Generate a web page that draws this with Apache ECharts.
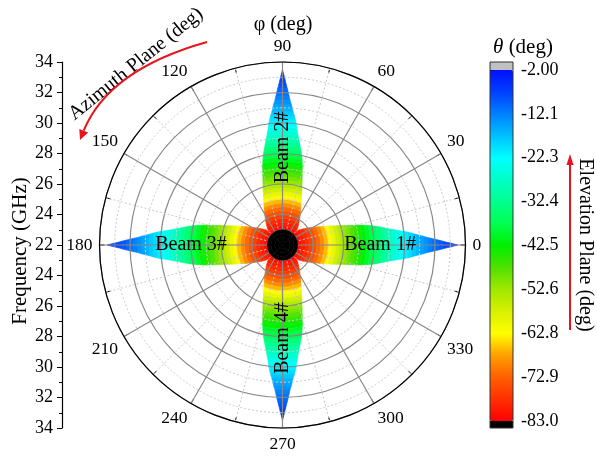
<!doctype html>
<html>
<head>
<meta charset="utf-8">
<title>Beam scan map</title>
<script src="https://cdn.jsdelivr.net/npm/echarts@6/dist/echarts.min.js"></script>
<style>
    html, body { margin: 0; padding: 0; background: #fff; }
    #chart { width: 597px; height: 457px; }
</style>
</head>
<body>
<div id="chart"></div>
<script>
// beam directions (phi, deg) and their names
var beamAngles = [0, 90, 180, 270];
var beamNames = ['Beam 1#', 'Beam 2#', 'Beam 3#', 'Beam 4#'];
var beamLabelFreq = [28.4, 28.4, 28.0, 28.1];

// ring edges along each beam (GHz) and beam half-width at each edge (deg of phi)
var freqEdges = [22, 22.25, 22.5, 22.75, 23, 23.25, 23.5, 23.75, 24, 24.25, 24.5, 24.75,
    25, 25.25, 25.5, 25.75, 26, 26.25, 26.5, 26.75, 27, 27.25, 27.5, 27.75,
    28, 28.25, 28.5, 28.75, 29, 29.25, 29.5, 29.75, 30, 30.25, 30.5, 30.75,
    31, 31.25, 31.5, 31.75, 32, 32.25, 32.5, 32.75, 33, 33.25, 33.5];
var halfWidthDeg = [45, 45, 45, 45, 45, 45, 41.8, 37.5, 33.9, 30.9, 28.3, 26.1,
    24.1, 22.5, 21.0, 19.7, 18.6, 17.6, 16.6, 15.8, 15.0, 14.4, 13.6, 12.9,
    12.2, 11.3, 10.4, 9.6, 8.8, 8.1, 7.5, 6.9, 6.5, 5.9, 5.3, 4.6,
    4.1, 3.6, 3.0, 2.6, 2.2, 1.8, 1.4, 1.0, 0.7, 0.33, 0];
// elevation theta (deg) in each ring between two edges
var thetaRing = [-95, -91, -87, -84, -81.5, -80, -78.5, -76.5, -74.5, -72, -69.5, -66.5,
    -63, -60, -57, -54.5, -52, -50, -48, -46, -44, -42, -40, -38,
    -36, -34, -32, -30, -28, -26, -24.2, -22.5, -21, -19.5, -18, -16.5,
    -15, -13.7, -12.4, -11.3, -10.2, -9.2, -8.2, -7.2, -6.2, -5.2];

var thetaMin = -83, thetaMax = -2;
var colorbarTicks = [-83, -72.875, -62.75, -52.625, -42.5, -32.375, -22.25, -12.125, -2];
var jet = ['#ff0000', '#ff3000', '#ff6000', '#ffa000', '#ffff00', '#d8f000', '#a0e800', '#50e000',
    '#00f000', '#00ff50', '#00ff90', '#00ffc8', '#00ffff', '#00c0ff', '#0080ff', '#0040ff', '#0010ff'];

var serif = 'Liberation Serif';
var red = '#e8141c';

var cells = [], coreCells = [];
beamAngles.forEach(function (phi) {
    for (var i = 0; i < thetaRing.length; i++) {
        var cell = [freqEdges[i], phi, freqEdges[i + 1], halfWidthDeg[i], halfWidthDeg[i + 1], thetaRing[i]];
        if (thetaRing[i] < thetaMin) coreCells.push(cell);
        else cells.push(cell);
    }
});
var labelData = beamAngles.map(function (phi, i) { return [beamLabelFreq[i], phi, i]; });

function ringPolygon(api, fill) {
    var fIn = api.value(0), phi = api.value(1), fOut = api.value(2);
    var aIn = api.value(3), aOut = api.value(4);
    var pts = [], n, k;
    n = Math.max(2, Math.ceil(aIn / 1.5));
    for (k = 0; k <= n; k++) pts.push(api.coord([fIn, phi - aIn + 2 * aIn * k / n]));
    n = Math.max(2, Math.ceil(aOut / 1.5));
    for (k = 0; k <= n; k++) pts.push(api.coord([fOut, phi + aOut - 2 * aOut * k / n]));
    return {
        type: 'polygon', shape: { points: pts },
        style: { fill: fill, stroke: fill, lineWidth: 0.6 }
    };
}

var chart = echarts.init(document.getElementById('chart'));

var option = {
    animation: false,
    polar: { center: [282.5, 245], radius: 183 },
    angleAxis: {
        type: 'value', min: 0, max: 360, interval: 30, startAngle: 0, clockwise: false, z: 5,
        axisLine: { lineStyle: { color: '#000', width: 1.2 } },
        axisTick: { show: true, inside: true, length: 5, lineStyle: { color: '#000' } },
        minorTick: { show: true, splitNumber: 2, length: 5, lineStyle: { color: '#000' } },
        splitLine: { show: true, lineStyle: { color: '#888', width: 1.2 } },
        minorSplitLine: { show: true, lineStyle: { color: '#c8c8c8', type: [2, 2] } },
        axisLabel: {
            margin: 7, color: '#000', fontFamily: serif, fontSize: 17.5,
            formatter: function (v) { return v === 360 ? '' : String(v); }
        }
    },
    radiusAxis: {
        type: 'value', min: 22, max: 34, interval: 2, z: 5,
        axisLine: { show: false }, axisTick: { show: false }, axisLabel: { show: false },
        minorTick: { show: false, splitNumber: 2 },
        splitLine: { show: true, lineStyle: { color: '#888', width: 1.2 } },
        minorSplitLine: { show: true, lineStyle: { color: '#c8c8c8', type: [2, 2] } }
    },
    grid: [
        { left: 62, top: 62, width: 1, height: 366 },
        { left: 490, top: 70, width: 23, height: 351 }
    ],
    xAxis: [
        { gridIndex: 0, type: 'value', show: false, min: 0, max: 1 },
        { gridIndex: 1, type: 'value', show: false, min: 0, max: 1 }
    ],
    yAxis: [
        {
            gridIndex: 0, type: 'value', min: -12, max: 12, interval: 2, position: 'left',
            axisLine: { show: true, lineStyle: { color: '#000', width: 1.2 } },
            axisTick: { show: true, length: 5, lineStyle: { color: '#000' } },
            minorTick: { show: true, splitNumber: 2, length: 3, lineStyle: { color: '#000' } },
            splitLine: { show: false },
            axisLabel: {
                margin: 9, color: '#000', fontFamily: serif, fontSize: 18,
                formatter: function (v) { return String(22 + Math.abs(v)); }
            }
        },
        {
            gridIndex: 1, type: 'value', min: thetaMin, max: thetaMax, position: 'right',
            axisLine: { show: false },
            axisTick: { show: true, length: 5, customValues: colorbarTicks, lineStyle: { color: '#000' } },
            splitLine: { show: false },
            axisLabel: {
                margin: 8, color: '#000', fontFamily: serif, fontSize: 18, customValues: colorbarTicks,
                formatter: function (v) { return v === -2 ? '-2.00' : v.toFixed(1); }
            }
        }
    ],
    visualMap: {
        type: 'continuous', min: thetaMin, max: thetaMax, dimension: 5, seriesIndex: 0,
        calculable: false, orient: 'vertical', left: 490, top: 70, padding: 0,
        itemWidth: 23, itemHeight: 351, text: null, showLabel: false,
        inRange: { color: jet },
        outOfRange: { color: ['#000000'] }
    },
    graphic: [
        { type: 'rect', z: 100, shape: { x: 490, y: 62, width: 23, height: 8 }, style: { fill: '#c0c0c0' } },
        { type: 'rect', z: 100, shape: { x: 490, y: 421, width: 23, height: 7 }, style: { fill: '#000' } },
        { type: 'rect', z: 101, shape: { x: 490, y: 62, width: 23, height: 366 }, style: { fill: 'none', stroke: '#333', lineWidth: 1 } },
        {
            type: 'text', z: 100, x: 283, y: 25,
            style: { text: 'φ (deg)', fontFamily: serif, fontSize: 20, fill: '#000', align: 'center', verticalAlign: 'middle' }
        },
        {
            type: 'text', z: 100, x: 523, y: 47,
            style: {
                text: '{i|θ}{n| (deg)}', align: 'center', verticalAlign: 'middle',
                rich: {
                    i: { fontFamily: serif, fontSize: 21, fontStyle: 'italic', fill: '#000' },
                    n: { fontFamily: serif, fontSize: 21, fill: '#000' }
                }
            }
        },
        {
            type: 'text', z: 100, x: 20, y: 251, rotation: Math.PI / 2,
            style: { text: 'Frequency (GHz)', fontFamily: serif, fontSize: 21, fill: '#000', align: 'center', verticalAlign: 'middle' }
        },
        {
            type: 'text', z: 100, x: 585, y: 245, rotation: -Math.PI / 2,
            style: { text: 'Elevation Plane (deg)', fontFamily: serif, fontSize: 20, fill: '#000', align: 'center', verticalAlign: 'middle' }
        },
        {
            type: 'text', z: 100, x: 136, y: 64, rotation: 39 * Math.PI / 180,
            style: { text: 'Azimuth Plane (deg)', fontFamily: serif, fontSize: 20, fill: '#000', align: 'center', verticalAlign: 'middle' }
        },
        {
            type: 'bezierCurve', z: 100,
            shape: { x1: 207, y1: 42, x2: 83.7, y2: 130.7, cpx1: 108.6, cpy1: 69.6 },
            style: { stroke: red, lineWidth: 2, fill: 'none' }
        },
        {
            type: 'polygon', z: 100,
            shape: { points: [[80, 140], [88.2, 132.5], [79.3, 128.9]] },
            style: { fill: red }
        },
        {
            type: 'line', z: 100, shape: { x1: 570, y1: 330, x2: 570, y2: 163 },
            style: { stroke: red, lineWidth: 2 }
        },
        {
            type: 'polygon', z: 100, shape: { points: [[570, 154], [566.5, 165], [573.5, 165]] },
            style: { fill: red }
        }
    ],
    series: [
        {
            type: 'custom', coordinateSystem: 'polar', z: 2, silent: true,
            data: cells,
            renderItem: function (params, api) {
                return ringPolygon(api, api.visual('color'));
            }
        },
        {
            // values below the colour scale: black, like the bar's lower cap, drawn over the grid
            type: 'custom', coordinateSystem: 'polar', z: 8, silent: true,
            data: coreCells,
            renderItem: function (params, api) {
                return ringPolygon(api, '#000000');
            }
        },
        {
            type: 'custom', coordinateSystem: 'polar', z: 20, silent: true,
            data: labelData,
            renderItem: function (params, api) {
                var p = api.coord([api.value(0), api.value(1)]);
                var idx = api.value(2);
                var vertical = beamAngles[idx] === 90 || beamAngles[idx] === 270;
                return {
                    type: 'text', x: p[0], y: p[1], rotation: vertical ? Math.PI / 2 : 0,
                    style: {
                        text: beamNames[idx], fontFamily: serif, fontSize: 20, fill: '#000',
                        align: 'center', verticalAlign: 'middle'
                    }
                };
            }
        }
    ]
};

chart.setOption(option);
</script>
</body>
</html>
